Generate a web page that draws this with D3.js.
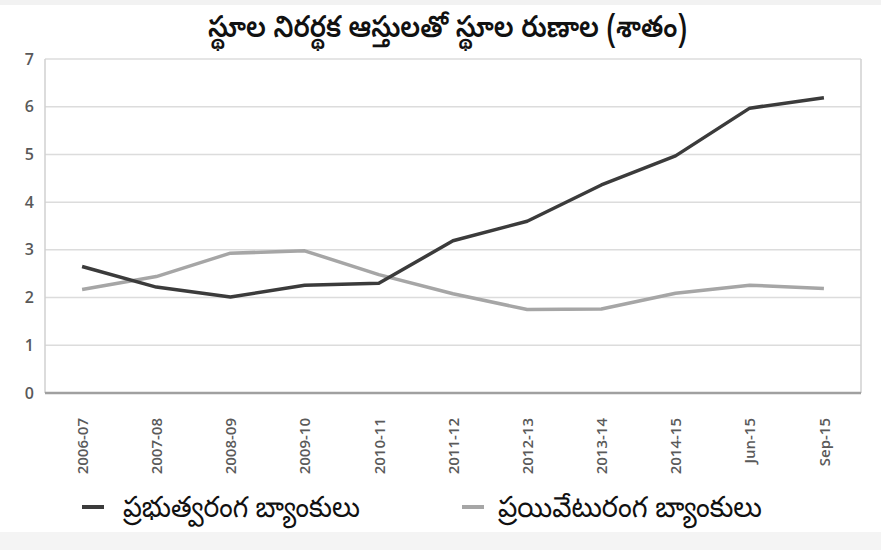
<!DOCTYPE html>
<html>
<head>
<meta charset="utf-8">
<script src="https://cdn.jsdelivr.net/npm/d3@7"></script>
<style>
  html, body { margin: 0; padding: 0; background: #ffffff; }
  svg { display: block; }
</style>
</head>
<body>
<svg id="chart" width="881" height="550"></svg>
<script>
const titleText = "స్థూల నిరర్థక ఆస్తులతో స్థూల రుణాల (శాతం)";
const categories = ["2006-07", "2007-08", "2008-09", "2009-10", "2010-11", "2011-12", "2012-13", "2013-14", "2014-15", "Jun-15", "Sep-15"];
const publicBanks = [2.65, 2.22, 2.01, 2.26, 2.30, 3.19, 3.60, 4.36, 4.97, 5.97, 6.19];
const privateBanks = [2.17, 2.44, 2.93, 2.98, 2.48, 2.08, 1.75, 1.76, 2.09, 2.26, 2.19];
const seriesNames = ["ప్రభుత్వరంగ బ్యాంకులు", "ప్రయివేటురంగ బ్యాంకులు"];
const yTicks = [0, 1, 2, 3, 4, 5, 6, 7];

const colors = ["#3b3b3b", "#a6a6a6"];
const svg = d3.select("#chart");
const W = 881, H = 550;
const plot = { left: 45, right: 861, top: 59, bottom: 393 };

// background strips
svg.append("rect").attr("x", 0).attr("y", 0).attr("width", W).attr("height", 5).attr("fill", "#f2f2f2");
svg.append("rect").attr("x", 0).attr("y", 532).attr("width", W).attr("height", H - 532).attr("fill", "#f4f4f4");

const x = d3.scalePoint().domain(categories).range([plot.left, plot.right]).padding(0.5);
const y = d3.scaleLinear().domain([0, 7]).range([plot.bottom, plot.top]);

// gridlines
svg.append("g")
  .selectAll("line")
  .data(yTicks.filter(d => d > 0))
  .join("line")
  .attr("x1", plot.left).attr("x2", plot.right)
  .attr("y1", d => y(d)).attr("y2", d => y(d))
  .attr("stroke", "#dcdcdc").attr("stroke-width", 1.5);

// frame left/right
svg.append("line").attr("x1", plot.left).attr("x2", plot.left).attr("y1", plot.top).attr("y2", plot.bottom)
  .attr("stroke", "#d0d0d0").attr("stroke-width", 1.5);
svg.append("line").attr("x1", plot.right).attr("x2", plot.right).attr("y1", plot.top).attr("y2", plot.bottom)
  .attr("stroke", "#d0d0d0").attr("stroke-width", 1.5);

// y axis
const yAxis = d3.axisLeft(y).tickValues(yTicks).tickSize(0).tickPadding(0).tickFormat(d3.format("d"));
const yg = svg.append("g").attr("transform", `translate(34,0)`).call(yAxis);
yg.select(".domain").remove();
yg.selectAll("text")
  .attr("font-family", "'Open Sans', sans-serif")
  .attr("font-size", 16).attr("font-weight", 600).attr("fill", "#595959");

// x axis
const xAxis = d3.axisBottom(x).tickSize(0).tickPadding(0);
const xg = svg.append("g").attr("transform", `translate(0,${plot.bottom})`).call(xAxis);
xg.select(".domain").attr("stroke", "#a0a0a0").attr("stroke-width", 2.5)
  .attr("d", `M${plot.left},0H${plot.right}`);
xg.selectAll("text")
  .attr("font-family", "'Open Sans', sans-serif")
  .attr("font-size", 15).attr("font-weight", 600).attr("fill", "#5a5a5a")
  .attr("transform", "rotate(-90)")
  .attr("text-anchor", "end")
  .attr("dy", "0.35em")
  .attr("x", -25).attr("y", 0);

// lines
const line = d3.line().x((d, i) => x(categories[i])).y(d => y(d));
[privateBanks, publicBanks].forEach((data, k) => {
  svg.append("path")
    .datum(data)
    .attr("fill", "none")
    .attr("stroke", k === 0 ? colors[1] : colors[0])
    .attr("stroke-width", 3.5)
    .attr("stroke-linejoin", "round")
    .attr("d", line);
});

// title
svg.append("text")
  .attr("x", 208).attr("y", 37)
  .attr("font-family", "'Noto Sans Telugu', 'Noto Sans', sans-serif")
  .attr("font-size", 30).attr("font-weight", 600).attr("fill", "#111")
  .attr("textLength", 479).attr("lengthAdjust", "spacingAndGlyphs")
  .text(titleText);

// legend
const legendItems = [
  { name: seriesNames[0], color: colors[0], x: 82, tx: 123, tw: 237 },
  { name: seriesNames[1], color: colors[1], x: 462, tx: 498, tw: 264 }
];
const lg = svg.append("g");
legendItems.forEach(item => {
  lg.append("line")
    .attr("x1", item.x).attr("x2", item.x + 22)
    .attr("y1", 507).attr("y2", 507)
    .attr("stroke", item.color).attr("stroke-width", 4);
  lg.append("text")
    .attr("x", item.tx).attr("y", 517)
    .attr("font-family", "'Noto Sans Telugu', 'Noto Sans', sans-serif")
    .attr("font-size", 29).attr("fill", "#111")
    .attr("textLength", item.tw).attr("lengthAdjust", "spacingAndGlyphs")
    .text(item.name);
});
</script>
</body>
</html>
